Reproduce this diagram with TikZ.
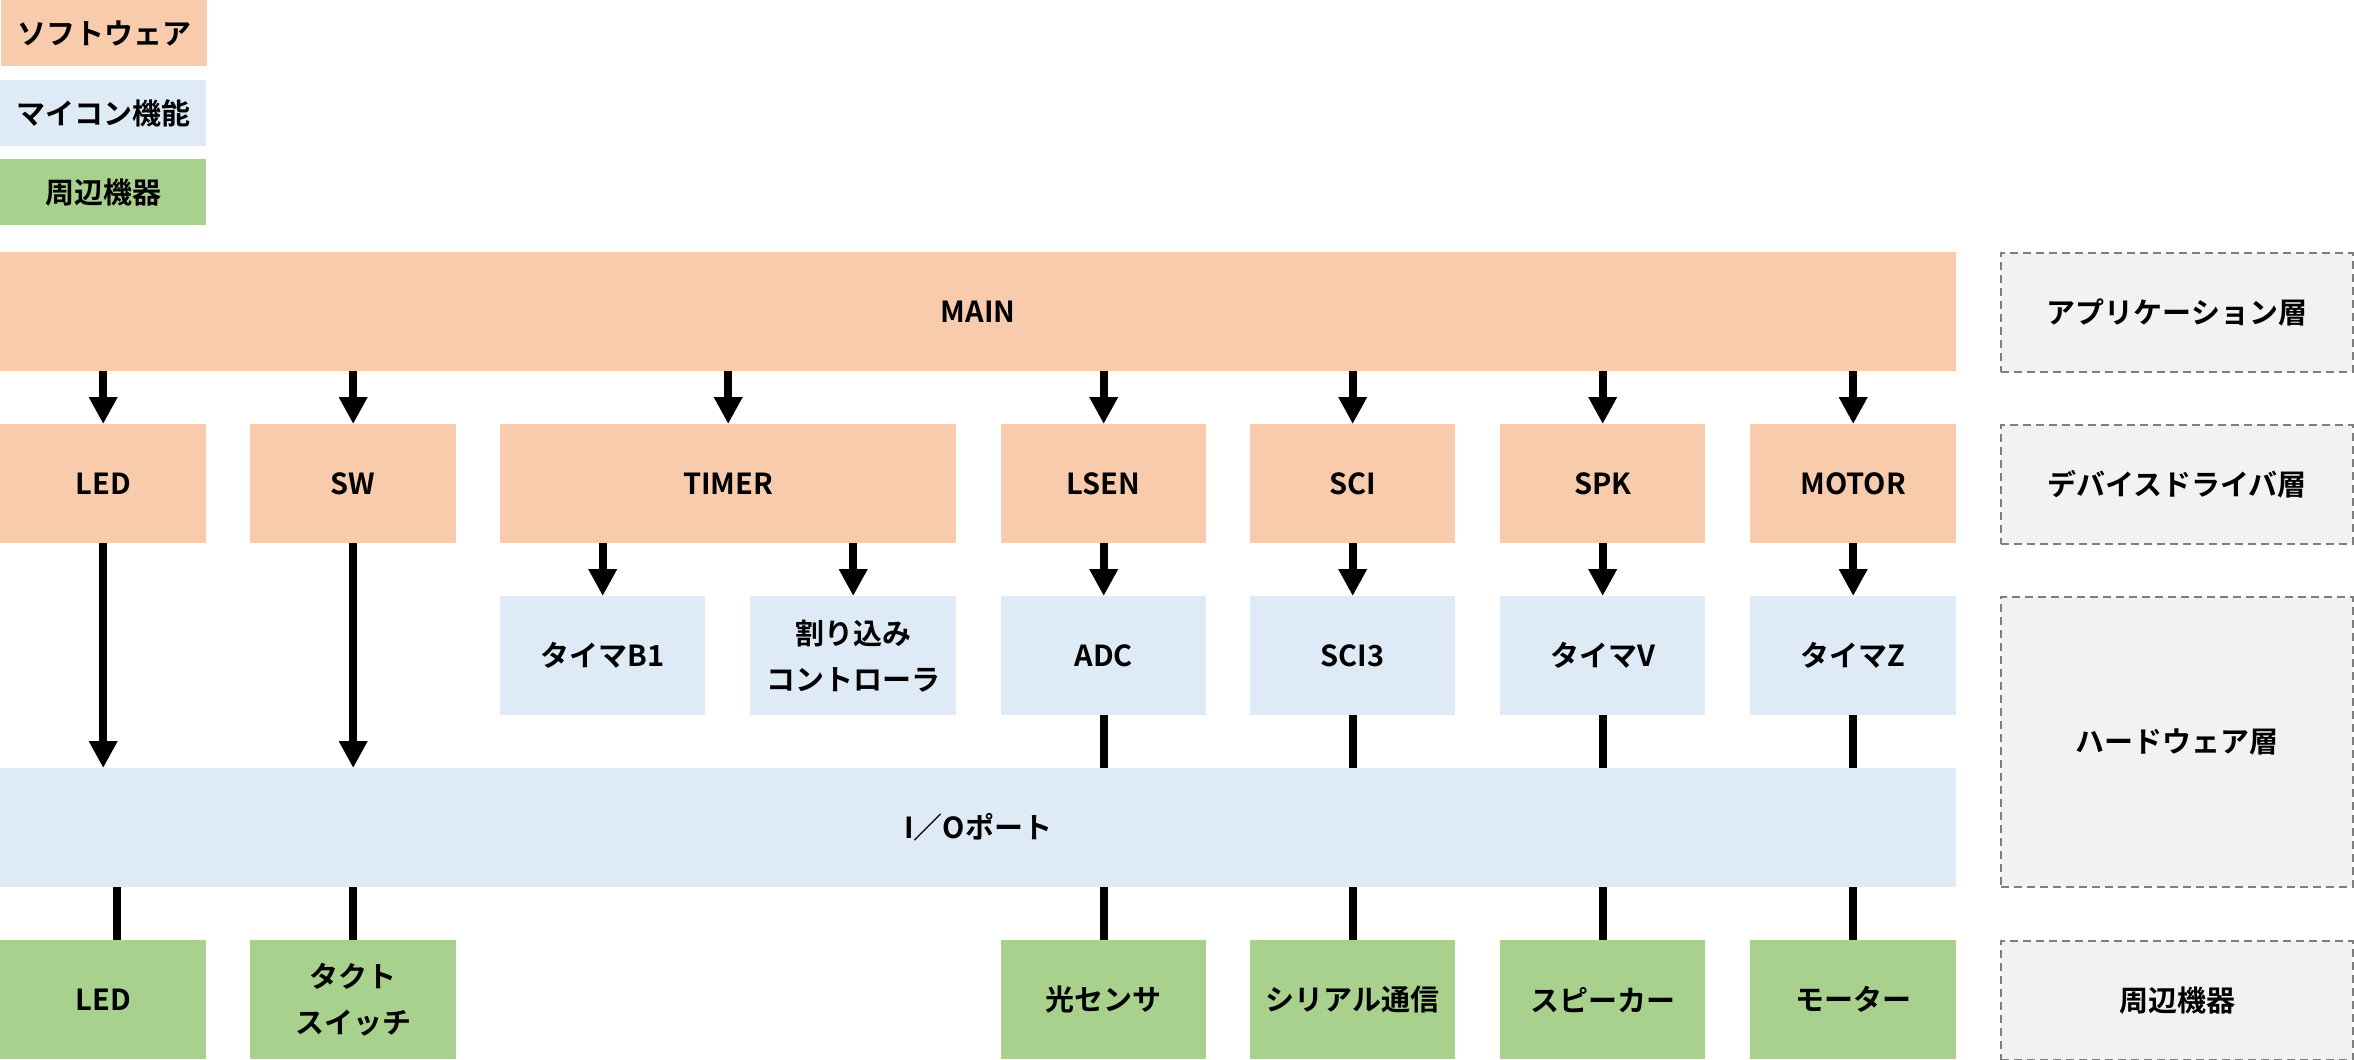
\documentclass[tikz,border=0pt]{standalone}
\usepackage{fontspec}
\setmainfont{Noto Sans CJK JP}[BoldFont={Noto Sans CJK JP Bold}]
\usetikzlibrary{arrows.meta}
\definecolor{sw}{HTML}{F8CBAD}
\definecolor{mc}{HTML}{DEEBF7}
\definecolor{pe}{HTML}{A9D18E}
\definecolor{ly}{HTML}{F2F2F2}
\definecolor{lyb}{HTML}{7F7F7F}
\tikzset{
  box/.style={anchor=north west, inner sep=0pt, align=center, font=\fontsize{29}{46}\selectfont\bfseries},
  swbox/.style={box, fill=sw},
  mcbox/.style={box, fill=mc},
  pebox/.style={box, fill=pe},
  lybox/.style={box, fill=ly, draw=lyb, line width=2pt, dash pattern=on 8pt off 5pt},
  arr/.style={line width=8pt, -{Triangle[width=27pt,length=27pt]}},
  ln/.style={line width=8pt},
}
\begin{document}
\begin{tikzpicture}[x=1pt,y=-1pt]
\useasboundingbox (0,0) rectangle (2354,1060);
% legend
\node[swbox, minimum width=206pt, minimum height=66pt] (lsw) at (1,0) {ソフトウェア};
\node[mcbox, minimum width=206pt, minimum height=66pt] (lmc) at (0,80) {マイコン機能};
\node[pebox, minimum width=206pt, minimum height=66pt] (lpe) at (0,159) {周辺機器};
% application
\node[swbox, minimum width=1956pt, minimum height=119pt] (main) at (0,252) {MAIN};
% device drivers
\node[swbox, minimum width=206pt, minimum height=119pt] (led) at (0,424) {LED};
\node[swbox, minimum width=206pt, minimum height=119pt] (sw) at (250,424) {SW};
\node[swbox, minimum width=456pt, minimum height=119pt] (timer) at (500,424) {TIMER};
\node[swbox, minimum width=205pt, minimum height=119pt] (lsen) at (1001,424) {LSEN};
\node[swbox, minimum width=205pt, minimum height=119pt] (sci) at (1250,424) {SCI};
\node[swbox, minimum width=205pt, minimum height=119pt] (spk) at (1500,424) {SPK};
\node[swbox, minimum width=206pt, minimum height=119pt] (motor) at (1750,424) {MOTOR};
% hardware
\node[mcbox, minimum width=205pt, minimum height=119pt] (tb1) at (500,596) {タイマB1};
\node[mcbox, minimum width=206pt, minimum height=119pt] (irq) at (750,596) {割り込み\\コントローラ};
\node[mcbox, minimum width=205pt, minimum height=119pt] (adc) at (1001,596) {ADC};
\node[mcbox, minimum width=205pt, minimum height=119pt] (sci3) at (1250,596) {SCI3};
\node[mcbox, minimum width=205pt, minimum height=119pt] (tv) at (1500,596) {タイマV};
\node[mcbox, minimum width=206pt, minimum height=119pt] (tz) at (1750,596) {タイマZ};
\node[mcbox, minimum width=1956pt, minimum height=119pt] (io) at (0,768) {I／Oポート};
% peripherals
\node[pebox, minimum width=206pt, minimum height=119pt] (pled) at (0,940) {LED};
\node[pebox, minimum width=206pt, minimum height=119pt] (psw) at (250,940) {タクト\\スイッチ};
\node[pebox, minimum width=205pt, minimum height=119pt] (plsen) at (1001,940) {光センサ};
\node[pebox, minimum width=205pt, minimum height=119pt] (psci) at (1250,940) {シリアル通信};
\node[pebox, minimum width=205pt, minimum height=119pt] (pspk) at (1500,940) {スピーカー};
\node[pebox, minimum width=206pt, minimum height=119pt] (pmot) at (1750,940) {モーター};
% layer labels
\node[lybox, minimum width=352pt, minimum height=119pt] (lapp) at (2000,252) {アプリケーション層};
\node[lybox, minimum width=352pt, minimum height=119pt] (ldev) at (2000,424) {デバイスドライバ層};
\node[lybox, minimum width=352pt, minimum height=290pt] (lhw) at (2000,596) {ハードウェア層};
\node[lybox, minimum width=352pt, minimum height=119pt] (lper) at (2000,940) {周辺機器};
% main -> drivers
\foreach \n in {led,sw,timer,lsen,sci,spk,motor}
  \draw[arr] (main.south -| \n.north) -- (\n.north);
% drivers -> hardware
\draw[arr] (timer.south -| tb1.north) -- (tb1.north);
\draw[arr] (timer.south -| irq.north) -- (irq.north);
\draw[arr] (lsen.south) -- (adc.north);
\draw[arr] (sci.south) -- (sci3.north);
\draw[arr] (spk.south) -- (tv.north);
\draw[arr] (motor.south) -- (tz.north);
\draw[arr] (led.south) -- (led.south |- io.north);
\draw[arr] (sw.south) -- (sw.south |- io.north);
% hardware -- io
\foreach \n in {adc,sci3,tv,tz}
  \draw[ln] (\n.south) -- (\n.south |- io.north);
% io -- peripherals
\draw[ln] ([xshift=14pt]pled.north) -- ([xshift=14pt]pled.north |- io.south);
\foreach \n in {psw,plsen,psci,pspk,pmot}
  \draw[ln] (\n.north) -- (\n.north |- io.south);
\end{tikzpicture}
\end{document}
